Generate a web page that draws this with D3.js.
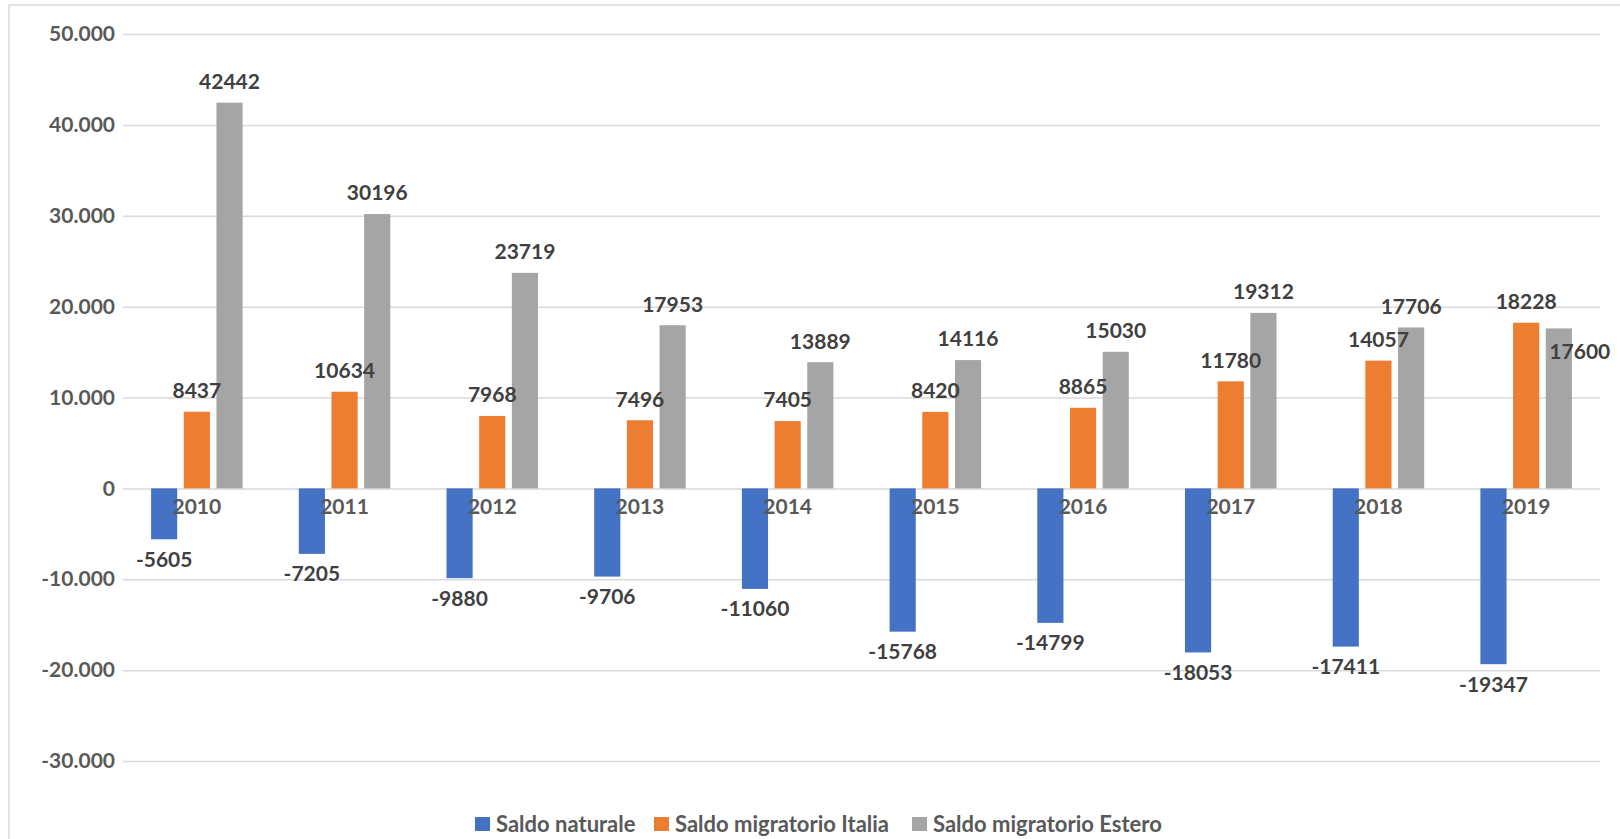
<!DOCTYPE html>
<html>
<head>
<meta charset="utf-8">
<script src="https://cdn.jsdelivr.net/npm/d3@7"></script>
<style>
  body { margin: 0; background: #fff; }
  svg { display: block; font-family: Lato, "Open Sans", sans-serif; font-weight: bold; }
</style>
</head>
<body>
<script>
// data
const years = ['2010', '2011', '2012', '2013', '2014', '2015', '2016', '2017', '2018', '2019'];
const seriesNames = ['Saldo naturale', 'Saldo migratorio Italia', 'Saldo migratorio Estero'];
const saldoNaturale = [-5605, -7205, -9880, -9706, -11060, -15768, -14799, -18053, -17411, -19347];
const saldoItalia = [8437, 10634, 7968, 7496, 7405, 8420, 8865, 11780, 14057, 18228];
const saldoEstero = [42442, 30196, 23719, 17953, 13889, 14116, 15030, 19312, 17706, 17600];
const yTicks = [-30000, -20000, -10000, 0, 10000, 20000, 30000, 40000, 50000];
const colors = ['#4472C4', '#ED7D31', '#A5A5A5'];
// labels that Excel moved aside to avoid overlap: [series, year]
const movedLabels = [[2, '2019']];

const width = 1620;
const height = 839;
const margin = { left: 123, right: 20, top: 34, bottom: 78 };

const svg = d3.select(document.body).append('svg')
  .attr('width', width)
  .attr('height', height);

// chart frame
svg.append('rect')
  .attr('x', 9).attr('y', 5)
  .attr('width', width).attr('height', height)
  .attr('fill', 'none')
  .attr('stroke', '#d9d9d9')
  .attr('stroke-width', 1.5);

let seriesValues = [saldoNaturale, saldoItalia, saldoEstero];
let data = [];
years.forEach((year, i) => {
  seriesValues.forEach((values, s) => {
    data.push({ year: year, series: s, value: values[i] });
  });
});

let x0 = d3.scaleBand()
  .domain(years)
  .range([margin.left, width - margin.right]);

let x1 = d3.scaleBand()
  .domain(d3.range(seriesNames.length))
  .range([0, x0.bandwidth()])
  .paddingInner(0.2)
  .paddingOuter(0.86);

let y = d3.scaleLinear()
  .domain([-30000, 50000])
  .range([height - margin.bottom, margin.top]);

let it = d3.formatLocale({ decimal: ',', thousands: '.', grouping: [3], currency: ['', '€'], minus: '-' });
let tickFormat = it.format(',d');

// gridlines + y labels
let yAxis = svg.append('g')
  .attr('transform', `translate(${margin.left},0)`)
  .call(d3.axisLeft(y)
    .tickValues(yTicks)
    .tickFormat(tickFormat)
    .tickSize(-(width - margin.left - margin.right))
    .tickPadding(8));
yAxis.select('.domain').remove();
yAxis.selectAll('.tick line')
  .attr('stroke', '#d9d9d9')
  .attr('stroke-width', 1.5);
yAxis.selectAll('.tick text')
  .attr('fill', '#595959')
  .style('font-size', '21px')
  .style('font-weight', 'bold')
  .style('font-family', 'Lato, sans-serif');

// bars
svg.append('g')
  .selectAll('rect')
  .data(data)
  .join('rect')
    .attr('x', d => x0(d.year) + x1(d.series))
    .attr('y', d => y(Math.max(0, d.value)))
    .attr('width', x1.bandwidth())
    .attr('height', d => Math.abs(y(d.value) - y(0)))
    .attr('fill', d => colors[d.series]);

// category labels, just under the zero line
svg.append('g')
  .selectAll('text')
  .data(years)
  .join('text')
    .attr('x', d => x0(d) + x0.bandwidth() / 2)
    .attr('y', y(0) + 18)
    .attr('dy', '0.35em')
    .attr('text-anchor', 'middle')
    .attr('fill', '#595959')
    .style('font-size', '21px')
    .text(d => d);

// value labels
let isMoved = d => movedLabels.some(m => m[0] === d.series && m[1] === d.year);
svg.append('g')
  .selectAll('text')
  .data(data)
  .join('text')
    .attr('x', d => x0(d.year) + x1(d.series) + x1.bandwidth() / 2 + (isMoved(d) ? 21 : 0))
    .attr('y', d => {
      if (isMoved(d)) return y(d.value) + 23;
      return d.value >= 0 ? y(d.value) - 21 : y(d.value) + 20;
    })
    .attr('dy', '0.35em')
    .attr('text-anchor', 'middle')
    .attr('fill', '#404040')
    .style('font-size', '21px')
    .text(d => d.value);

// legend
let legend = svg.append('g')
  .attr('transform', 'translate(475,824)');
let legendX = [0, 179, 437];
let item = legend.selectAll('g')
  .data(seriesNames)
  .join('g')
    .attr('transform', (d, i) => `translate(${legendX[i]},0)`);
item.append('rect')
  .attr('x', 0).attr('y', -7)
  .attr('width', 15).attr('height', 14)
  .attr('fill', (d, i) => colors[i]);
item.append('text')
  .attr('x', 21)
  .attr('dy', '0.35em')
  .attr('fill', '#595959')
  .style('font-size', '22px')
  .text(d => d);
</script>
</body>
</html>
